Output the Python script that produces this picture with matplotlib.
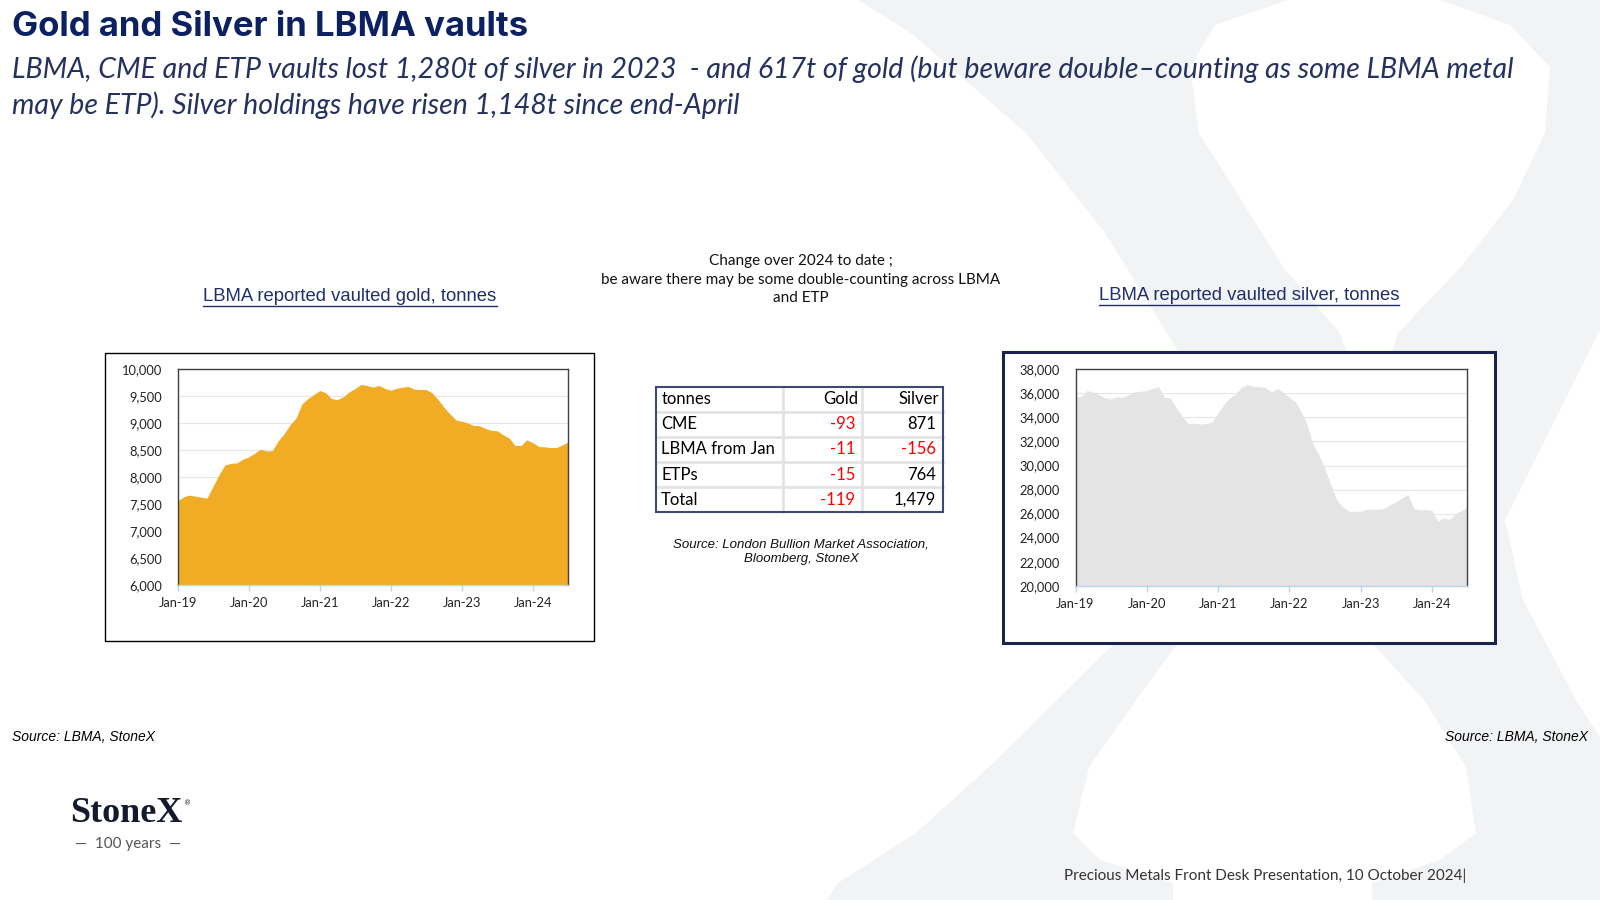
import matplotlib
matplotlib.use("Agg")
import matplotlib.pyplot as plt
import matplotlib.dates as mdates
from matplotlib.patches import Rectangle, Polygon
from matplotlib.lines import Line2D
from matplotlib.ticker import MultipleLocator, FuncFormatter
import pandas as pd

# layout coordinates below are measured on a 1568x882 view of the slide
W, H = 1568, 882

# monthly data, Jan-19 .. Jul-24
months = pd.date_range("2019-01-01", periods=67, freq="MS")

gold_tonnes = [
    7558, 7632, 7664, 7645, 7626, 7607, 7819, 8037, 8224, 8255, 8262, 8330,
    8374, 8442, 8517, 8486, 8486, 8673, 8798, 8972, 9097, 9358, 9458, 9533,
    9607, 9564, 9458, 9439, 9489, 9583, 9645, 9720, 9701, 9670, 9701, 9645,
    9614, 9651, 9670, 9682, 9632, 9626, 9626, 9564, 9439, 9296, 9171, 9059,
    9035, 9003, 8960, 8953, 8904, 8866, 8860, 8785, 8723, 8586, 8586, 8692,
    8636, 8567, 8561, 8548, 8548, 8598, 8654,
]

silver_tonnes = [
    35685, 35769, 36243, 36104, 35908, 35629, 35546, 35713, 35685, 35908, 36132, 36187,
    36243, 36411, 36550, 35685, 35629, 34790, 34094, 33480, 33536, 33452, 33508, 33620,
    34373, 35127, 35629, 35964, 36522, 36746, 36578, 36578, 36466, 36132, 36411, 36104,
    35685, 35294, 34513, 33452, 31778, 30885, 29768, 28429, 27117, 26559, 26196, 26196,
    26196, 26363, 26363, 26363, 26419, 26754, 26977, 27312, 27591, 26419, 26307, 26335,
    26280, 25359, 25638, 25526, 26001, 26252, 26559,
]

# change over 2024 table
table_rows = ["CME", "LBMA from Jan", "ETPs", "Total"]
table_gold = [-93, -11, -15, -119]
table_silver = [871, -156, 764, 1479]

NAVY = "#0b2161"
GOLD = "#f0ac24"
SILVER = "#e4e4e4"
RED = "#ff0000"
WATERMARK = "#f2f3f5"


def fx(x):
    return x / W


def fy(y):
    return 1 - y / H


fig = plt.figure(figsize=(16, 9), dpi=100)
fig.patch.set_facecolor("white")

# faint StoneX "X" watermark (outline in 1600x900 pixels)
x_outline = [
    (858, -10), (1288, -10), (1288, 0), (1215, 25), (1190, 67), (1199, 133),
    (1241, 200), (1283, 267), (1340, 333), (1370, 420), (1398, 333), (1461, 267),
    (1513, 200), (1545, 133), (1550, 67), (1510, 25), (1440, 0), (1440, -10),
    (1700, -10), (1700, 150), (1600, 330), (1505, 520), (1523, 600), (1576, 700),
    (1640, 800), (1700, 910), (1372, 910), (1372, 883), (1440, 860), (1476, 833),
    (1466, 767), (1424, 700), (1372, 643), (1265, 530), (1178, 643), (1136, 700),
    (1089, 767), (1073, 833), (1100, 860), (1173, 883), (1173, 910), (820, 910),
    (838, 883), (916, 833), (989, 767), (1057, 700), (1115, 643), (1266, 492),
    (1167, 333), (1105, 233), (1026, 133), (911, 33), (858, 0),
]
fig.add_artist(Polygon([(x / 1600, 1 - y / 900) for x, y in x_outline], closed=True,
                       transform=fig.transFigure, facecolor=WATERMARK, edgecolor="none",
                       zorder=0))

# heading
fig.text(fx(12), fy(26), "Gold and Silver in LBMA vaults", fontsize=25,
         fontweight="bold", family="Inter", color=NAVY, va="center")
fig.text(fx(12), fy(68),
         "LBMA, CME and ETP vaults lost 1,280t of silver in 2023  - and 617t of gold "
         "(but beware double\u2013counting as some LBMA metal",
         fontsize=20.5, style="italic", family="Lato", color="#25315f", va="center")
fig.text(fx(12), fy(103),
         "may be ETP). Silver holdings have risen 1,148t since end-April",
         fontsize=20.5, style="italic", family="Lato", color="#25315f", va="center")

renderer = fig.canvas.get_renderer()


def underlined(x, y, s):
    t = fig.text(fx(x), fy(y), s, fontsize=13.3, family="Liberation Sans",
                 color="#1f2f6e", ha="center", va="center")
    bb = t.get_window_extent(renderer)
    yl = bb.y0 - 1
    fw, fh = fig.bbox.width, fig.bbox.height
    fig.add_artist(Line2D([bb.x0 / fw, bb.x1 / fw], [yl / fh, yl / fh],
                          color="#1f2f6e", lw=1, transform=fig.transFigure))


underlined(343, 291, "LBMA reported vaulted gold, tonnes")
underlined(1224, 290, "LBMA reported vaulted silver, tonnes")

# chart frames
fig.add_artist(Rectangle((fx(103), fy(628)), fx(582 - 103), (628 - 346) / H,
                         transform=fig.transFigure, facecolor="white",
                         edgecolor="black", lw=1, zorder=1))
fig.add_artist(Rectangle((fx(983), fy(630)), fx(1465 - 983), (630 - 345) / H,
                         transform=fig.transFigure, facecolor="white",
                         edgecolor="#1a2350", lw=2.2, zorder=1))


def area_chart(left, right, top, bottom, values, color, ylo, yhi, step):
    ax = fig.add_axes([fx(left), fy(bottom), fx(right - left), (bottom - top) / H], zorder=2)
    ax.fill_between(months, values, ylo, color=color, lw=0, zorder=2)
    ax.set_xlim(months[0], months[-1])
    ax.set_ylim(ylo, yhi)
    ax.yaxis.set_major_locator(MultipleLocator(step))
    ax.yaxis.set_major_formatter(FuncFormatter(lambda v, p: f"{v:,.0f}"))
    ax.xaxis.set_major_locator(mdates.YearLocator())
    ax.xaxis.set_major_formatter(mdates.DateFormatter("%b-%y"))
    ax.grid(axis="y", color="#e6e6e6", lw=0.8, zorder=1)
    ax.set_axisbelow(True)
    for side in ["top", "right", "left"]:
        ax.spines[side].set_color("#404040")
        ax.spines[side].set_linewidth(1)
    ax.spines["bottom"].set_color("#bcd3ea")
    ax.spines["bottom"].set_linewidth(1)
    ax.tick_params(axis="y", length=0, pad=11, labelsize=9.3, labelcolor="#222222")
    ax.tick_params(axis="x", length=4, width=1, color="#bcd3ea", pad=5,
                   labelsize=9.3, labelcolor="#222222")
    for lab in ax.get_xticklabels() + ax.get_yticklabels():
        lab.set_family("Lato")
    return ax


area_chart(174, 557, 362, 573, gold_tonnes, GOLD, 6000, 10000, 500)
area_chart(1054, 1438, 362, 574, silver_tonnes, SILVER, 20000, 38000, 2000)

# centre note and table
fig.text(fx(785), fy(274),
         "Change over 2024 to date ;\nbe aware there may be some double-counting across LBMA\nand ETP",
         fontsize=11, family="Lato", color="#111111", ha="center", va="center",
         linespacing=1.4)

col_x = [643, 767, 845, 924]
row_top = 379
row_h = 24.6
n_rows = len(table_rows) + 1
fig.add_artist(Rectangle((fx(col_x[0]), fy(row_top + n_rows * row_h)),
                         fx(col_x[-1] - col_x[0]), n_rows * row_h / H,
                         transform=fig.transFigure, facecolor="white", edgecolor="none",
                         zorder=1))
for i in range(1, n_rows):
    y = row_top + i * row_h
    fig.add_artist(Line2D([fx(col_x[0]), fx(col_x[-1])], [fy(y), fy(y)],
                          color="#e3e3e3", lw=2, transform=fig.transFigure, zorder=2))
for x in col_x[1:-1]:
    fig.add_artist(Line2D([fx(x), fx(x)], [fy(row_top), fy(row_top + n_rows * row_h)],
                          color="#e3e3e3", lw=2, transform=fig.transFigure, zorder=2))
fig.add_artist(Rectangle((fx(col_x[0]), fy(row_top + n_rows * row_h)),
                         fx(col_x[-1] - col_x[0]), n_rows * row_h / H,
                         transform=fig.transFigure, fill=False,
                         edgecolor="#3a4a7a", lw=1.5, zorder=3))

header = ["tonnes", "Gold", "Silver"]
cells = [header] + [[r, f"{g:,}", f"{s:,}"] for r, g, s in zip(table_rows, table_gold, table_silver)]
for i, row in enumerate(cells):
    yc = row_top + (i + 0.5) * row_h
    fig.text(fx(col_x[0] + 5), fy(yc), row[0], fontsize=12, family="Lato",
             color="black", ha="left", va="center", zorder=4)
    for j, val in enumerate(row[1:]):
        neg = val.startswith("-")
        fig.text(fx(col_x[j + 2] - 7 + (3 if i == 0 else 0)), fy(yc), val,
                 fontsize=12, family="Lato",
                 color=RED if neg else "black", ha="right", va="center", zorder=4)

fig.text(fx(785), fy(541), "Source: London Bullion Market Association,\nBloomberg, StoneX",
         fontsize=9.5, family="Liberation Sans", style="italic", color="#111111",
         ha="center", va="center", linespacing=1.25)

# sources and footer
fig.text(fx(12), fy(722), "Source: LBMA, StoneX", fontsize=10, family="Liberation Sans",
         style="italic", color="black", va="center")
fig.text(fx(1556), fy(722), "Source: LBMA, StoneX", fontsize=10, family="Liberation Sans",
         style="italic", color="black", va="center", ha="right")
fig.text(fx(1437), fy(858), "Precious Metals Front Desk Presentation, 10 October 2024|",
         fontsize=11, family="Lato", color="#333333", va="center", ha="right")

# logo
logo = fig.text(fx(69), fy(797), "StoneX", fontsize=26, family="Liberation Serif",
                fontweight="bold", color="#141a2c", va="center", ha="left")
lb = logo.get_window_extent(renderer)
fig.text(lb.x1 / fig.bbox.width + 0.001, fy(787), "\u00ae", fontsize=5,
         family="DejaVu Sans", color="#141a2c", va="center", ha="left")
fig.text(fx(125), fy(827), "\u2014  100 years  \u2014", fontsize=11, family="Lato",
         color="#555555", va="center", ha="center")

fig.savefig("out.png", dpi=100, facecolor="white")
